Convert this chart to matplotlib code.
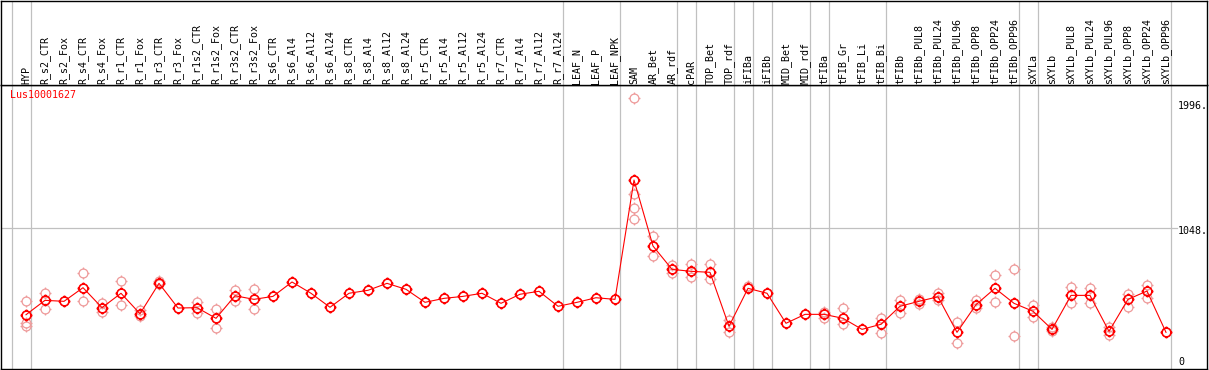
import numpy as np
import matplotlib
matplotlib.use("Agg")
import matplotlib.pyplot as plt
from matplotlib.path import Path

# sample columns, left to right
samples = ["HYP",
           "R_s2_CTR", "R_s2_Fox", "R_s4_CTR", "R_s4_Fox", "R_r1_CTR", "R_r1_Fox",
           "R_r3_CTR", "R_r3_Fox", "R_r1s2_CTR", "R_r1s2_Fox", "R_r3s2_CTR", "R_r3s2_Fox",
           "R_s6_CTR", "R_s6_Al4", "R_s6_Al12", "R_s6_Al24", "R_s8_CTR", "R_s8_Al4",
           "R_s8_Al12", "R_s8_Al24", "R_r5_CTR", "R_r5_Al4", "R_r5_Al12", "R_r5_Al24",
           "R_r7_CTR", "R_r7_Al4", "R_r7_Al12", "R_r7_Al24",
           "LEAF_N", "LEAF_P", "LEAF_NPK",
           "SAM", "AR_Bet", "AR_rdf",
           "cPAR",
           "TOP_Bet", "TOP_rdf",
           "iFIBa",
           "iFIBb",
           "MID_Bet", "MID_rdf",
           "tFIBa",
           "tFIB_Gr", "tFIB_Li", "tFIB_Bi",
           "tFIBb", "tFIBb_PUL8", "tFIBb_PUL24", "tFIBb_PUL96", "tFIBb_OPP8",
           "tFIBb_OPP24", "tFIBb_OPP96",
           "sXYLa",
           "sXYLb", "sXYLb_PUL8", "sXYLb_PUL24", "sXYLb_PUL96", "sXYLb_OPP8",
           "sXYLb_OPP24", "sXYLb_OPP96"]

# how many columns sit between two grey separators
group_sizes = [1, 28, 3, 3, 1, 2, 1, 1, 2, 1, 3, 7, 1, 7]

# mean expression per sample
means = [349,
         465, 457, 567, 406, 522, 357, 602, 403, 406, 320, 502, 473,
         497, 613, 522, 409, 522, 546, 602, 554, 449, 481, 497, 522,
         441, 514, 538, 417,
         449, 486, 473,
         1435, 903, 715,
         699,
         691, 256,
         562,
         522,
         280, 352,
         352,
         320, 231, 272,
         417, 457, 494, 207, 430, 562, 441,
         377,
         231, 505, 505, 215, 473, 540, 207]

# replicate values that show up apart from the mean
replicates = [[460, 280, 260],
              [522, 398], [], [683, 457], [444, 373], [618, 425], [390, 341],
              [624, 594], [], [449, 365], [393, 244], [546, 460], [554, 393],
              [], [], [], [], [], [], [], [], [], [], [], [],
              [], [], [], [],
              [], [], [],
              [2094, 1323, 1207, 1118], [984, 820], [748, 683],
              [758, 651],
              [758, 635], [306, 207],
              [581],
              [],
              [], [],
              [373, 320],
              [401, 272], [], [320, 199],
              [468, 360], [476, 435], [524, 468], [288, 123], [468, 401], [667, 449], [715, 175],
              [425, 328],
              [250, 218], [570, 444], [562, 441], [252, 185], [519, 414], [586, 486], []]

gene = "Lus10001627"
grid_value = 1048
y_labels = ["1996.", "1048.", "0"]

W, H = 1209, 370
X0, STEP = 26, 19          # pixel of first column, column spacing
ZERO, SCALE = 358, 0.124   # pixel of value 0, pixels per unit


def box(x0, y0, x1, y1):
    return [x0 / W, 1 - y1 / H, (x1 - x0) / W, (y1 - y0) / H]


# circle with four little ticks, like the original markers
circle = Path.circle((0, 0), 1.0)
ticks = Path([(0, 1), (0, 1.35), (0, -1), (0, -1.35), (1, 0), (1.35, 0), (-1, 0), (-1.35, 0)],
             [Path.MOVETO, Path.LINETO] * 4)
sun = Path.make_compound_path(circle, ticks)

plt.rcParams['font.family'] = ['DejaVu Sans Mono']

fig = plt.figure(figsize=(W / 100, H / 100), dpi=100)
ax = fig.add_axes(box(1, 85, 1207, 369))
hdr = fig.add_axes(box(1, 0.5, 1207, 85))

xlim = ((1 - X0) / STEP, (1207 - X0) / STEP)
for a in (ax, hdr):
    a.set_xlim(*xlim)
    a.set_xticks([])
    a.set_yticks([])
    for s in a.spines.values():
        s.set_color("black")
        s.set_linewidth(1.0)
ax.set_ylim(-(369 - ZERO) / SCALE, (ZERO - 85) / SCALE)
hdr.set_ylim(0, 1)

# grey separators between groups
seps = np.concatenate([[-1], np.cumsum(group_sizes) - 1]) + 0.25
for a in (ax, hdr):
    for s in seps:
        a.axvline(s, color="#c0c0c0", lw=0.9, zorder=0)
ax.axhline(grid_value, xmax=(1177 - 1) / 1206, color="#c0c0c0", lw=0.9, zorder=0)

x = np.arange(len(samples))
for i, reps in enumerate(replicates):
    if reps:
        ax.plot([i] * len(reps), reps, ls="none", marker=sun, ms=8.6,
                mfc="none", mec="#ee9a9a", mew=0.9, zorder=2)
ax.plot(x, means, color="red", lw=0.8, marker=sun, ms=8.6,
        mfc="none", mec="red", mew=1.2, zorder=3)

for i, name in enumerate(samples):
    hdr.text(i, 1.5 / 85, name, rotation=90, ha="center", va="bottom",
             fontsize=7.2, color="black")

fig.text(10 / W, 1 - 90 / H, gene, color="red", fontsize=7.2, va="top", ha="left")
for lab, top in zip(y_labels, [101, 226, 357]):
    fig.text(1178 / W, 1 - top / H, lab, fontsize=7.2, va="top", ha="left")

fig.savefig("out.png", dpi=100)
